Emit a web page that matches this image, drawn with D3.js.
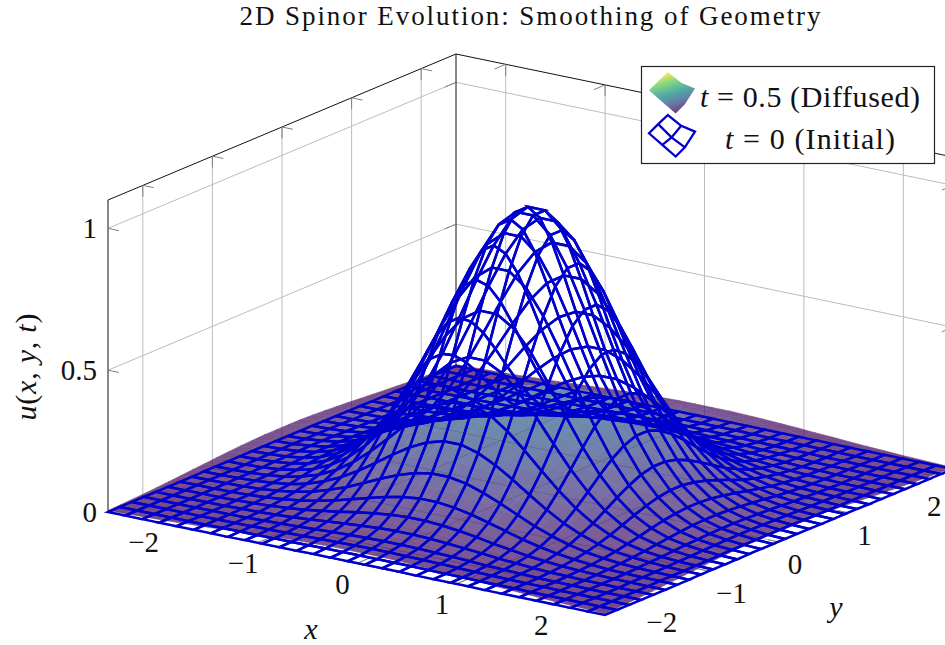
<!DOCTYPE html>
<html>
<head>
<meta charset="utf-8">
<script src="https://cdn.jsdelivr.net/npm/d3@7"></script>
<style>
body{margin:0;background:#fff;}
svg{display:block;}
text{font-family:"Liberation Serif",serif;fill:#111;}
</style>
</head>
<body>
<svg id="chart" width="945" height="645"></svg>
<script>
// sample positions on the positive half, the grid mirrors around 0
const gridPositive=[0.0862,0.2586,0.4310,0.6034,0.7759,0.9483,1.1207,1.2931,1.4655,1.6379,1.8103,1.9828,2.1552,2.3276,2.5];

// one quadrant of each surface
const initialQuadrant=[
[.985,.928,.824,.690,.544,.404,.283,.187,.116,.068,.037,.019,.010,.004,.002],
[.928,.875,.777,.650,.512,.381,.266,.176,.109,.064,.035,.018,.009,.004,.002],
[.824,.777,.690,.577,.455,.338,.236,.156,.097,.057,.031,.016,.008,.004,.002],
[.690,.650,.577,.483,.381,.283,.198,.131,.081,.048,.026,.014,.007,.003,.001],
[.544,.512,.455,.381,.300,.223,.156,.103,.064,.037,.021,.011,.005,.002,.001],
[.404,.381,.338,.283,.223,.166,.116,.076,.047,.028,.015,.008,.004,.002,.001],
[.283,.266,.236,.198,.156,.116,.081,.054,.033,.019,.011,.006,.003,.001,.001],
[.187,.176,.156,.131,.103,.076,.054,.035,.022,.013,.007,.004,.002,.001,0],
[.116,.109,.097,.081,.064,.047,.033,.022,.014,.008,.004,.002,.001,.001,0],
[.068,.064,.057,.048,.037,.028,.019,.013,.008,.005,.003,.001,.001,0,0],
[.037,.035,.031,.026,.021,.015,.011,.007,.004,.003,.001,.001,0,0,0],
[.019,.018,.016,.014,.011,.008,.006,.004,.002,.001,.001,0,0,0,0],
[.010,.009,.008,.007,.005,.004,.003,.002,.001,.001,0,0,0,0,0],
[.004,.004,.004,.003,.002,.002,.001,.001,.001,0,0,0,0,0,0],
[.002,.002,.002,.001,.001,.001,.001,0,0,0,0,0,0,0,0]];

const diffusedQuadrant=[
[.332,.325,.313,.294,.272,.246,.219,.190,.162,.136,.112,.090,.071,.055,.041],
[.325,.319,.306,.289,.267,.242,.214,.187,.159,.133,.109,.088,.069,.054,.041],
[.313,.306,.295,.277,.256,.232,.206,.179,.153,.128,.105,.085,.067,.052,.039],
[.294,.289,.277,.261,.242,.219,.194,.169,.144,.121,.099,.080,.063,.049,.037],
[.272,.267,.256,.242,.223,.202,.179,.156,.133,.112,.091,.074,.058,.045,.034],
[.246,.242,.232,.219,.202,.183,.163,.141,.121,.101,.083,.067,.053,.041,.031],
[.219,.214,.206,.194,.179,.163,.144,.126,.107,.090,.074,.059,.047,.036,.027],
[.190,.187,.179,.169,.156,.141,.126,.109,.093,.078,.064,.051,.041,.031,.024],
[.162,.159,.153,.144,.133,.121,.107,.093,.080,.067,.055,.044,.035,.027,.020],
[.136,.133,.128,.121,.112,.101,.090,.078,.067,.056,.046,.037,.029,.022,.017],
[.112,.109,.105,.099,.091,.083,.074,.064,.055,.046,.037,.030,.024,.018,.014],
[.090,.088,.085,.080,.074,.067,.059,.051,.044,.037,.030,.024,.019,.015,.011],
[.071,.069,.067,.063,.058,.053,.047,.041,.035,.029,.024,.019,.015,.012,.009],
[.055,.054,.052,.049,.045,.041,.036,.031,.027,.022,.018,.015,.012,.009,.007],
[.041,.041,.039,.037,.034,.031,.027,.024,.020,.017,.014,.011,.009,.007,.005]];

const xTicks=[-2,-1,0,1,2];
const yTicks=[-2,-1,0,1,2];
const zTicks=[0,0.5,1];
const zTickLabels=["0","0.5","1"];
const titleText="2D Spinor Evolution: Smoothing of Geometry";
// legend swatch outline, in 0..1 of the swatch box: L, LT, T, TR, R, RB, B, BL, centre
const swatchU=[0,.2,.41,.7,1,.78,.58,.29,.49];
const swatchV=[.44,.22,0,.26,.4,.78,1,.72,.54];

const nHalf=gridPositive.length;
const mirrorIndex=i=>i<nHalf?nHalf-1-i:i-nHalf;
const grid=d3.range(nHalf*2).map(i=>(i<nHalf?-1:1)*gridPositive[mirrorIndex(i)]);
const fullMatrix=q=>grid.map((_,i)=>grid.map((_,j)=>q[mirrorIndex(i)][mirrorIndex(j)]));
const initialZ=fullMatrix(initialQuadrant);
const diffusedZ=fullMatrix(diffusedQuadrant);

// the oblique box: each data axis adds its own screen offset
const X0=108,Y0=512;
const xToPx=d3.scaleLinear().domain([-2.5,2.5]).range([0,497]);
const xToPy=d3.scaleLinear().domain([-2.5,2.5]).range([0,103]);
const yToPx=d3.scaleLinear().domain([-2.5,2.5]).range([0,348]);
const yToPy=d3.scaleLinear().domain([-2.5,2.5]).range([0,-146]);
const zToPy=d3.scaleLinear().domain([0,1.1]).range([0,-312]);
const project=(x,y,z)=>[X0+xToPx(x)+yToPx(y),Y0+xToPy(x)+yToPy(y)+zToPy(z)];

const viridis=d3.scaleSequential(d3.interpolateViridis).domain([0,1]);
const svg=d3.select("#chart");
const line=d3.line();

function seg(g,a,b,color,w){
	g.append("path").attr("d",line([a,b])).attr("fill","none").attr("stroke",color).attr("stroke-width",w);
}

// grid lines on the walls and the floor
const gridG=svg.append("g");
const gridColor="#bcbcbc";
xTicks.forEach(function(x){
	seg(gridG,project(x,-2.5,0),project(x,2.5,0),gridColor,1);
	seg(gridG,project(x,2.5,0),project(x,2.5,1.1),gridColor,1);
});
yTicks.forEach(function(y){
	seg(gridG,project(-2.5,y,0),project(2.5,y,0),gridColor,1);
	seg(gridG,project(-2.5,y,0),project(-2.5,y,1.1),gridColor,1);
});
zTicks.filter(z=>z>0).forEach(function(z){
	seg(gridG,project(-2.5,-2.5,z),project(-2.5,2.5,z),gridColor,1);
	seg(gridG,project(-2.5,2.5,z),project(2.5,2.5,z),gridColor,1);
});

// box edges behind the surface
const boxG=svg.append("g");
[[[-2.5,-2.5,0],[-2.5,-2.5,1.1]],[[-2.5,2.5,0],[-2.5,2.5,1.1]],
 [[-2.5,-2.5,1.1],[-2.5,2.5,1.1]],[[-2.5,2.5,1.1],[2.5,2.5,1.1]],
 [[-2.5,-2.5,0],[-2.5,2.5,0]],[[-2.5,2.5,0],[2.5,2.5,0]],
 [[-2.5,-2.5,0],[2.5,-2.5,0]],[[2.5,-2.5,0],[2.5,2.5,0]]].forEach(function(e){
	seg(boxG,project(...e[0]),project(...e[1]),"#111",1);
});

// small inward ticks
const tickG=svg.append("g");
const tickColor="#808080",tickZ=0.04,tickX=0.11,tickY=0.16;
xTicks.forEach(function(x){
	seg(tickG,project(x,2.5,1.1),project(x,2.5,1.1-tickZ),tickColor,1);
	seg(tickG,project(x,2.5,1.1),project(x,2.5-tickY,1.1),tickColor,1);
	seg(tickG,project(x,-2.5,0),project(x,-2.5+tickY,0),tickColor,1);
});
yTicks.forEach(function(y){
	seg(tickG,project(-2.5,y,1.1),project(-2.5,y,1.1-tickZ),tickColor,1);
	seg(tickG,project(-2.5,y,1.1),project(-2.5+tickX,y,1.1),tickColor,1);
	seg(tickG,project(2.5,y,0),project(2.5-tickX,y,0),tickColor,1);
});
zTicks.forEach(function(z){
	seg(tickG,project(-2.5,-2.5,z),project(-2.5+tickX,-2.5,z),tickColor,1);
	seg(tickG,project(-2.5,2.5,z),project(-2.5,2.5-tickY,z),tickColor,1);
	seg(tickG,project(2.5,2.5,z),project(2.5,2.5-tickY,z),tickColor,1);
});

// cells of a surface, back to front
function cells(zm){
	let out=[];
	for(let i=0;i<grid.length-1;i++){
		for(let j=0;j<grid.length-1;j++){
			out.push({
				pts:[project(grid[i],grid[j],zm[i][j]),project(grid[i+1],grid[j],zm[i+1][j]),project(grid[i+1],grid[j+1],zm[i+1][j+1]),project(grid[i],grid[j+1],zm[i][j+1])],
				meta:(zm[i][j]+zm[i+1][j]+zm[i+1][j+1]+zm[i][j+1])/4,
				depth:grid[i]-grid[j]
			});
		}
	}
	return out.sort((a,b)=>a.depth-b.depth);
}
const closed=d3.line().curve(d3.curveLinearClosed);

svg.append("g").attr("opacity",0.72)
	.selectAll("path").data(cells(diffusedZ)).join("path")
	.attr("d",d=>closed(d.pts))
	.attr("fill",d=>viridis(d.meta))
	.attr("stroke",d=>viridis(d.meta))
	.attr("stroke-width",0.6);

svg.append("g")
	.selectAll("path").data(cells(initialZ)).join("path")
	.attr("d",d=>closed(d.pts))
	.attr("fill","none")
	.attr("stroke","#0000cc")
	.attr("stroke-width",2.5);

// texts
const labelSize=29;
function tickLabel(txt,px,py,anchor){
	svg.append("text").attr("x",px).attr("y",py).attr("text-anchor",anchor||"middle").attr("font-size",labelSize).text(txt);
}
const minus=v=>(v<0?"\u2212"+(-v):""+v);
xTicks.forEach(function(x){
	const p=project(x,-2.5,0);
	tickLabel(minus(x),p[0]-14,p[1]+30);
});
yTicks.forEach(function(y){
	const p=project(2.5,y,0);
	tickLabel(minus(y),p[0]+(y<0?22:16),p[1]+32);
});
zTicks.forEach(function(z,i){
	const p=project(-2.5,-2.5,z);
	tickLabel(zTickLabels[i],p[0]-11,p[1]+10,"end");
});

svg.append("text").attr("x",530).attr("y",24.5).attr("text-anchor","middle").attr("font-size",27)
	.attr("textLength",581).attr("lengthAdjust","spacing").text(titleText);
svg.append("text").attr("x",311).attr("y",639).attr("text-anchor","middle").attr("font-size",30).attr("font-style","italic").text("x");
svg.append("text").attr("x",836).attr("y",617).attr("text-anchor","middle").attr("font-size",30).attr("font-style","italic").text("y");
svg.append("text").attr("transform","translate(36,367) rotate(-90)").attr("text-anchor","middle").attr("font-size",30)
	.attr("textLength",107).attr("lengthAdjust","spacing")
	.html('<tspan font-style="italic">u</tspan>(<tspan font-style="italic">x</tspan>, <tspan font-style="italic">y</tspan>, <tspan font-style="italic">t</tspan>)');

// legend
const legend=svg.append("g");
legend.append("rect").attr("x",641.5).attr("y",66.5).attr("width",293).attr("height",97).attr("fill","#fff").attr("stroke","#222").attr("stroke-width",1.2);
const defs=svg.append("defs");
const grad=defs.append("linearGradient").attr("id","swatchFill").attr("x1","0.3").attr("y1","0.04").attr("x2","0.62").attr("y2","1");
[0,.25,.5,.75,1].forEach(function(t){
	grad.append("stop").attr("offset",t).attr("stop-color",viridis(1-t));
});
const swX=d3.scaleLinear().domain([0,1]).range([649,695]);
const swYtop=d3.scaleLinear().domain([0,1]).range([72,113.5]);
const swYlow=d3.scaleLinear().domain([0,1]).range([115,156.5]);
const outline=d3.range(8);
legend.append("path").attr("d",closed(outline.map(i=>[swX(swatchU[i]),swYtop(swatchV[i])])))
	.attr("fill","url(#swatchFill)").attr("opacity",0.78);
const ptLow=i=>[swX(swatchU[i]),swYlow(swatchV[i])];
const meshPath=closed(outline.map(ptLow))+line([ptLow(1),ptLow(8),ptLow(5)])+line([ptLow(3),ptLow(8),ptLow(7)]);
legend.append("path").attr("d",meshPath).attr("fill","none").attr("stroke","#0000cc").attr("stroke-width",2.3);
legend.append("text").attr("x",810).attr("y",107).attr("text-anchor","middle").attr("font-size",30)
	.attr("textLength",220).attr("lengthAdjust","spacing")
	.html('<tspan font-style="italic">t</tspan> = 0.5 (Diffused)');
legend.append("text").attr("x",810).attr("y",149).attr("text-anchor","middle").attr("font-size",30)
	.attr("textLength",170).attr("lengthAdjust","spacing")
	.html('<tspan font-style="italic">t</tspan> = 0 (Initial)');
</script>
</body>
</html>
